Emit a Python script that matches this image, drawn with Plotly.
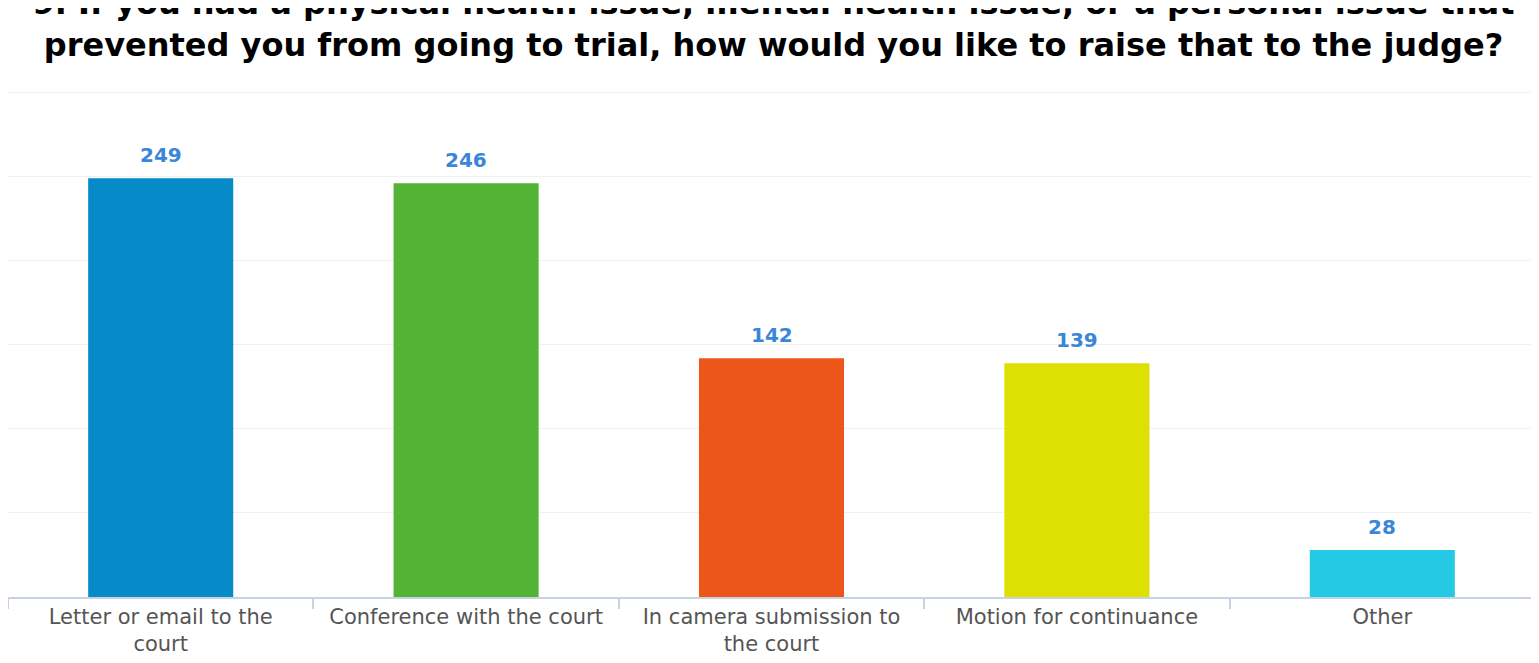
import plotly.graph_objects as go

categories = ["Letter or email to the<br>court", "Conference with the court",
              "In camera submission to<br>the court", "Motion for continuance", "Other"]
values = [249, 246, 142, 139, 28]
colors = ["#068bc8", "#52b334", "#ec561b", "#dde000", "#24c9e3"]

fig = go.Figure()
fig.add_trace(go.Bar(x=categories, y=values, marker=dict(color=colors, line=dict(width=0)),
                     width=0.475, hoverinfo="skip"))

for c, v in zip(categories, values):
    fig.add_annotation(x=c, y=v, text=str(v), showarrow=False, yanchor="bottom", yshift=9,
                       font=dict(family="DejaVu Sans", size=20, color="#3a86d8", weight="bold"))

fig.update_layout(
    width=1531, height=663,
    paper_bgcolor="white", plot_bgcolor="white",
    margin=dict(l=0, r=4, t=81, b=74, autoexpand=False),
    title=dict(text="9. If you had a physical health issue, mental health issue, or a personal issue that<br>"
                    "prevented you from going to trial, how would you like to raise that to the judge?",
               x=0.5, xanchor="center", y=1 - 6 / 663, yanchor="middle", yref="container",
               font=dict(family="DejaVu Sans", size=32, color="#000000", weight="bold")),
    showlegend=False,
    bargap=0.525,
)
fig.update_yaxes(range=[0, 302], dtick=50, showticklabels=False, showgrid=True,
                 gridcolor="#f0f0f0", gridwidth=1, zeroline=False, showline=False,
                 automargin=False)
fig.update_xaxes(showline=True, linecolor="#c5d3e2", linewidth=1.5, ticks="outside",
                 tickson="boundaries", tickcolor="#c5d3e2", ticklen=10, tickwidth=1.5,
                 tickfont=dict(family="DejaVu Sans", size=21, color="#555555"),
                 showgrid=False, automargin=False)

fig.write_html("out.html")
